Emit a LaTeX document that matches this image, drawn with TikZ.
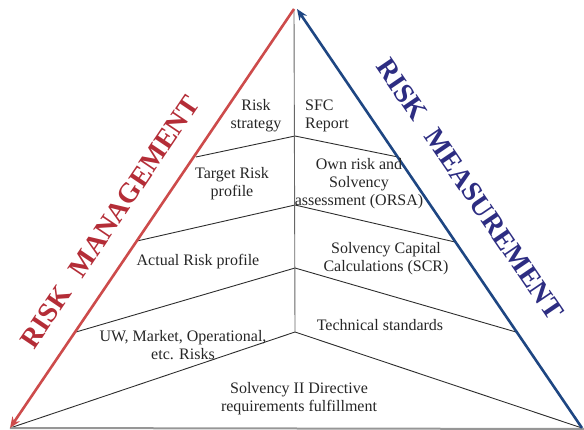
\documentclass[tikz,border=0pt]{standalone}
\usepackage{fontspec}
\setmainfont{Liberation Serif}
\usetikzlibrary{arrows.meta}
\definecolor{rmred}{RGB}{205,75,75}
\definecolor{rmredtxt}{RGB}{180,45,55}
\definecolor{rmblue}{RGB}{30,70,130}
\definecolor{rmbluetxt}{RGB}{45,45,130}
\definecolor{bandline}{RGB}{45,45,45}
\definecolor{baseline}{RGB}{150,150,150}
\begin{document}
\begin{tikzpicture}[x=1pt,y=-1pt,
  lbl/.style={font=\fontsize{16}{18}\selectfont, align=center, inner sep=0pt, text=black!85},
  band/.style={draw=bandline, line width=0.9pt},
  bigtxt/.style={font=\fontsize{28}{30}\selectfont\bfseries, inner sep=0pt},
  sidearrow/.style={line width=2.6pt, -{Stealth[length=11pt,width=9pt]}}]
\useasboundingbox (0,0) rectangle (584,430);
% key points
\coordinate (apex) at (294,9);
\coordinate (apexb) at (297,9);
\coordinate (bl) at (10,428);
\coordinate (br) at (582,428);
\coordinate (bre) at (584,429);
\coordinate (c1) at (295,136);
\coordinate (c2) at (295,205);
\coordinate (c3) at (295,268);
\coordinate (c4) at (295,332);
\coordinate (l1) at (196,157);
\coordinate (l2) at (137,241);
\coordinate (l3) at (76,332);
\coordinate (r1) at (398,157);
\coordinate (r2) at (455,242);
\coordinate (r3) at (516,332);
% band lines
\draw[band] (l1) -- (c1) -- (r1);
\draw[band] (l2) -- (c2) -- (r2);
\draw[band] (l3) -- (c3) -- (r3);
\draw[band] (bl) -- (c4) -- (br);
\draw[draw=black!60, line width=0.9pt] (apex) -- (c4);
\draw[draw=baseline, line width=2pt] (bl) -- (bre);
% side arrows
\draw[sidearrow, rmred] (apex) -- (bl);
\draw[sidearrow, rmblue] (br) -- (apexb);
% labels
\node[lbl] (rs) at (256,116) {Risk\\strategy};
\node[lbl] (trp) at (232,184) {Target Risk\\profile};
\node[lbl] (arp) at (198,262) {Actual Risk profile};
\node[lbl] (uw) at (183,345) {UW, Market, Operational,\\etc. Risks};
\node[lbl] (s2) at (299,399) {Solvency II Directive\\requirements fulfillment};
\node[lbl, align=left, anchor=west] (sfc) at (305,116) {SFC\\Report};
\node[lbl] (orsa) at (359,184) {Own risk and\\Solvency\\assessment (ORSA)};
\node[lbl] (scr) at (386,259) {Solvency Capital\\Calculations (SCR)};
\node[lbl] (ts) at (380,325) {Technical standards};
% big side titles
\node[bigtxt, text=rmredtxt, rotate=56] (rm) at (110,222) {RISK\hspace{0.6em}MANAGEMENT};
\node[bigtxt, text=rmbluetxt, rotate=-55.7] (rme) at (470,189) {RISK\hspace{0.6em}MEASUREMENT};
\end{tikzpicture}
\end{document}
